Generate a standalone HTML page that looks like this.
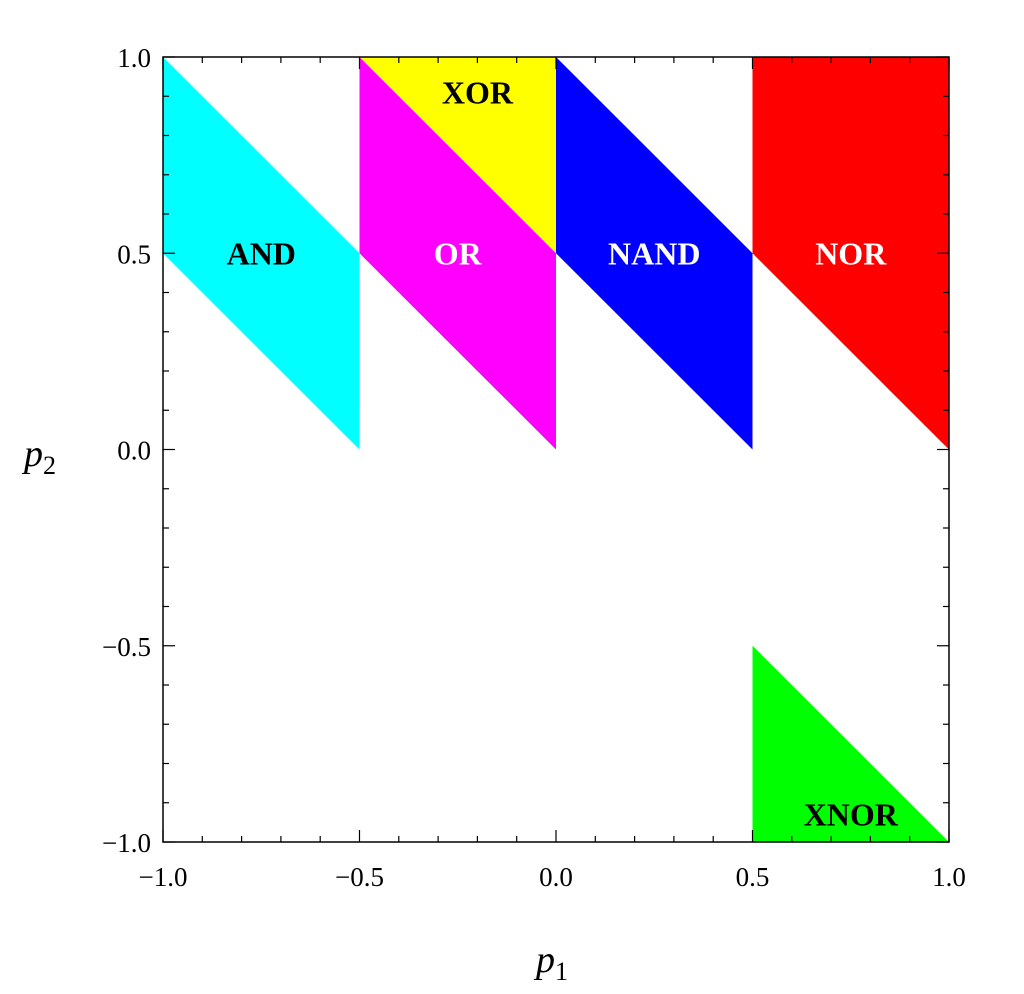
<!DOCTYPE html>
<html><head><meta charset="utf-8"><style>
html,body{margin:0;padding:0;background:#fff;}
svg{display:block;font-family:"Liberation Serif",serif;}
</style></head><body>
<svg id="chart" width="1024" height="994" viewBox="0 0 1024 994">
<g id="regions"></g>
<g id="labels"></g>
<rect x="163" y="57" width="786" height="785" fill="none" stroke="#000" stroke-width="1.5"/>
<g id="ticks"></g>
<text x="40" y="466" font-size="38" font-style="italic" text-anchor="middle">p<tspan font-size="26" dy="8" font-style="normal">2</tspan></text>
<text x="552" y="972" font-size="38" font-style="italic" text-anchor="middle">p<tspan font-size="26" dy="8" font-style="normal">1</tspan></text>
</svg>
<script>
const regionNames = ["AND","OR","XOR","NAND","NOR","XNOR"];
const regionColors = ["#00ffff","#ff00ff","#ffff00","#0000ff","#ff0000","#00ff00"];
const regionPolys = [
 [[-1,1],[-0.5,0.5],[-0.5,0],[-1,0.5]],
 [[-0.5,1],[0,0.5],[0,0],[-0.5,0.5]],
 [[-0.5,1],[0,1],[0,0.5]],
 [[0,1],[0.5,0.5],[0.5,0],[0,0.5]],
 [[0.5,1],[1,1],[1,0],[0.5,0.5]],
 [[0.5,-0.5],[1,-1],[0.5,-1]]
];
const labelPos = [[-0.75,0.5],[-0.25,0.5],[-0.2,0.91],[0.25,0.5],[0.75,0.5],[0.75,-0.93]];
const labelColors = ["#000","#fff","#000","#fff","#fff","#000"];
const tickLabels = ["−1.0","−0.5","0.0","0.5","1.0"];
const tickValues = [-1,-0.5,0,0.5,1];

const NS="http://www.w3.org/2000/svg";
const X0=163,X1=949,Y0=842,Y1=57;
function sx(v){return X0+(v+1)/2*(X1-X0);}
function sy(v){return Y0-(v+1)/2*(Y0-Y1);}
const gR=document.getElementById('regions'),gL=document.getElementById('labels'),gT=document.getElementById('ticks');
regionPolys.forEach((p,i)=>{
 const el=document.createElementNS(NS,'polygon');
 el.setAttribute('points',p.map(q=>sx(q[0])+','+sy(q[1])).join(' '));
 el.setAttribute('fill',regionColors[i]);
 
 
 gR.appendChild(el);
 const t=document.createElementNS(NS,'text');
 t.setAttribute('x',sx(labelPos[i][0]));t.setAttribute('y',sy(labelPos[i][1])+11);
 t.setAttribute('text-anchor','middle');t.setAttribute('font-size','32');t.setAttribute('font-weight','bold');
 t.setAttribute('fill',labelColors[i]);t.textContent=regionNames[i];
 
 
 gL.appendChild(t);
});
function line(x1,y1,x2,y2){const l=document.createElementNS(NS,'line');l.setAttribute('x1',x1);l.setAttribute('y1',y1);l.setAttribute('x2',x2);l.setAttribute('y2',y2);l.setAttribute('stroke','#000');l.setAttribute('stroke-width','1.2');


gT.appendChild(l);}
for(let k=-10;k<=10;k++){
 const v=k/10,major=(k%5===0),len=major?12:6;
 const x=sx(v),y=sy(v);
 line(x,Y0,x,Y0-len);line(x,Y1,x,Y1+len);
 line(X0,y,X0+len,y);line(X1,y,X1-len,y);
}
tickValues.forEach((v,i)=>{
 const tx=document.createElementNS(NS,'text');
 tx.setAttribute('x',sx(v));tx.setAttribute('y',Y0+44);tx.setAttribute('text-anchor','middle');tx.setAttribute('font-size','27');
 tx.textContent=tickLabels[i];
 
 
 gT.appendChild(tx);
 const ty=document.createElementNS(NS,'text');
 ty.setAttribute('x',X0-12);ty.setAttribute('y',sy(v)+10);ty.setAttribute('text-anchor','end');ty.setAttribute('font-size','27');
 ty.textContent=tickLabels[i];
 
 
 gT.appendChild(ty);
});
</script>
</body></html>
